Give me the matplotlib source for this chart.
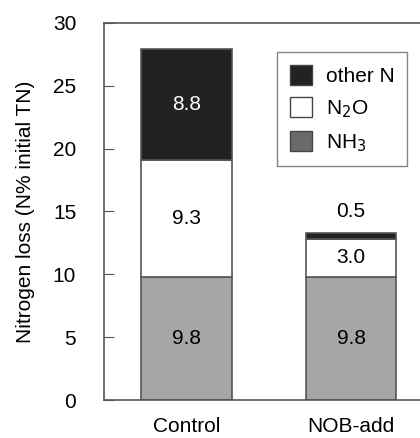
import matplotlib
matplotlib.use("Agg")
import matplotlib.pyplot as plt
from matplotlib.patches import Patch
import numpy as np

plt.rcParams['font.family'] = ['Liberation Sans', 'DejaVu Sans']

categories = ["Control", "NOB-add"]
nh3 = [9.8, 9.8]
n2o = [9.3, 3.0]
other_n = [8.8, 0.5]
yticks = [0, 5, 10, 15, 20, 25, 30]

fig = plt.figure(figsize=(4.2, 4.38), dpi=100)
ax = fig.add_axes([104/420, 1-400/438, 318/420, (400-23)/438])

x = np.arange(len(categories))
w = 0.55
edge = '#555555'
ax.bar(x, nh3, w, color='#a6a6a6', edgecolor=edge, linewidth=1.2)
ax.bar(x, n2o, w, bottom=nh3, color='white', edgecolor=edge, linewidth=1.2)
bot3 = [a + b for a, b in zip(nh3, n2o)]
ax.bar(x, other_n, w, bottom=bot3, color='#222222', edgecolor=edge, linewidth=1.2)

fs = 15
for i in range(len(categories)):
    ax.text(x[i], nh3[i] / 2, f"{nh3[i]:.1f}", ha='center', va='center', fontsize=fs, color='black')
    ax.text(x[i], nh3[i] + n2o[i] / 2, f"{n2o[i]:.1f}", ha='center', va='center', fontsize=fs, color='black')
    top = bot3[i] + other_n[i]
    if other_n[i] > 2:
        ax.text(x[i], bot3[i] + other_n[i] / 2, f"{other_n[i]:.1f}", ha='center', va='center', fontsize=fs, color='white')
    else:
        ax.text(x[i], top + 1.7, f"{other_n[i]:.1f}", ha='center', va='center', fontsize=fs, color='black')

ax.set_xlim(-0.5, 1.43)
ax.set_ylim(0, 30)
ax.set_yticks(yticks)
ax.set_xticks(x)
ax.set_xticklabels(categories, fontsize=fs)
ax.tick_params(axis='y', direction='in', length=7, labelsize=fs, color='#555555', pad=20)
ax.tick_params(axis='x', length=0, labelsize=fs, pad=12)
for s in ax.spines.values():
    s.set_color('#555555')
    s.set_linewidth(1.2)
ax.spines['right'].set_visible(False)
ax.set_ylabel("Nitrogen loss (N% initial TN)", fontsize=fs, labelpad=13)

handles = [Patch(facecolor='#222222', edgecolor='#444444', label='other N'),
           Patch(facecolor='white', edgecolor='#444444', label='N$_2$O'),
           Patch(facecolor='#6a6a6a', edgecolor='#444444', label='NH$_3$')]
leg = fig.legend(handles=handles, loc='upper left', bbox_to_anchor=(277/420, 1-52/438),
                 bbox_transform=fig.transFigure,
                 fontsize=fs, frameon=True, fancybox=False, edgecolor='#666666',
                 handlelength=1.1, handleheight=1.1, borderpad=0.6, labelspacing=0.55,
                 handletextpad=0.65, borderaxespad=0)
leg.get_frame().set_linewidth(1.0)

fig.savefig("out.png", dpi=100)
